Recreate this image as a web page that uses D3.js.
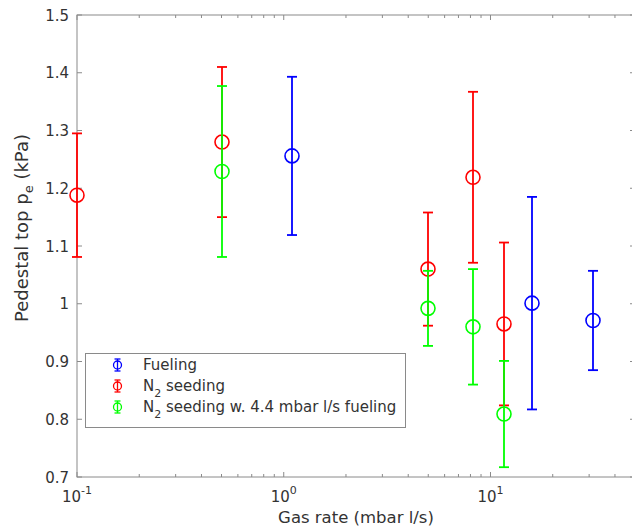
<!DOCTYPE html>
<html><head><meta charset="utf-8">
<script src="https://cdn.jsdelivr.net/npm/d3@7"></script>
<style>body{margin:0;background:#fff}svg{display:block}text{font-family:"DejaVu Sans",sans-serif}</style>
</head><body><svg id="c" width="632" height="531"></svg>
<script>
// Data
const fuelX = [1.1, 15.8, 31.4];
const fuelY = [1.256, 1.001, 0.971];
const fuelErr = [0.137, 0.184, 0.086];
const seedX = [0.1, 0.5, 5.0, 8.2, 11.6];
const seedY = [1.188, 1.280, 1.060, 1.219, 0.965];
const seedErr = [0.107, 0.130, 0.098, 0.148, 0.141];
const mixX = [0.5, 5.0, 8.2, 11.6];
const mixY = [1.229, 0.992, 0.960, 0.809];
const mixErr = [0.148, 0.065, 0.100, 0.092];
const yTicks = [0.7, 0.8, 0.9, 1.0, 1.1, 1.2, 1.3, 1.4, 1.5];
const xMajor = [0.1, 1, 10];
const xMajorExp = ["-1", "0", "1"];
const legendNames = ["Fueling", "N2 seeding", "N2 seeding w. 4.4 mbar l/s fueling"];

const series = [
  {x: fuelX, y: fuelY, e: fuelErr, color: "#0000ff"},
  {x: seedX, y: seedY, e: seedErr, color: "#ff0000"},
  {x: mixX, y: mixY, e: mixErr, color: "#00ff00"}
];

const L = 77, R = 635, T = 15, B = 477;
const svg = d3.select("#c");
const x = d3.scaleLog().domain([0.1, 50]).range([L, R]);
const y = d3.scaleLinear().domain([0.7, 1.5]).range([B, T]);
const axisCol = "#8a8a8a", textCol = "#333";

const g = svg.append("g");
g.append("rect").attr("x", L).attr("y", T).attr("width", R - L).attr("height", B - T)
  .attr("fill", "none").attr("stroke", axisCol).attr("stroke-width", 1);

const minor = [];
for (let d = 0.1; d < 50; d *= 10) for (let k = 2; k <= 9; k++) { const v = d * k; if (v <= 50) minor.push(v); }
const tk = g.append("g").attr("stroke", axisCol).attr("stroke-width", 1);
minor.forEach(v => {
  tk.append("line").attr("x1", x(v)).attr("x2", x(v)).attr("y1", B).attr("y2", B - 3);
  tk.append("line").attr("x1", x(v)).attr("x2", x(v)).attr("y1", T).attr("y2", T + 3);
});
xMajor.forEach(v => {
  tk.append("line").attr("x1", x(v)).attr("x2", x(v)).attr("y1", B).attr("y2", B - 5);
  tk.append("line").attr("x1", x(v)).attr("x2", x(v)).attr("y1", T).attr("y2", T + 5);
});
yTicks.forEach(v => {
  tk.append("line").attr("x1", L).attr("x2", L + 5).attr("y1", y(v)).attr("y2", y(v));
  tk.append("line").attr("x1", R).attr("x2", R - 5).attr("y1", y(v)).attr("y2", y(v));
});

yTicks.forEach(v => {
  g.append("text").attr("x", L - 8).attr("y", y(v) + 5.5).attr("text-anchor", "end")
    .attr("font-size", 15).attr("fill", textCol).text(d3.format("~g")(v));
});
xMajor.forEach((v, i) => {
  const t = g.append("text").attr("x", x(v)).attr("y", 502).attr("text-anchor", "middle")
    .attr("font-size", 15).attr("fill", textCol);
  t.append("tspan").text("10");
  t.append("tspan").attr("dy", -8).attr("font-size", 11).text(xMajorExp[i]);
});

// axis labels
g.append("text").attr("x", 356).attr("y", 523).attr("text-anchor", "middle")
  .attr("font-size", 16.5).attr("fill", textCol).text("Gas rate (mbar l/s)");
const yl = g.append("text").attr("transform", "translate(28,228) rotate(-90)").attr("text-anchor", "middle")
  .attr("font-size", 18).attr("fill", textCol);
yl.append("tspan").text("Pedestal top p");
yl.append("tspan").attr("dy", 5).attr("font-size", 13).text("e");
yl.append("tspan").attr("dy", -5).text(" (kPa)");

// error bars + markers
const capW = 5;
series.forEach(s => {
  const gs = g.append("g").attr("stroke", s.color).attr("stroke-width", 1.8).attr("fill", "none");
  s.x.forEach((xv, i) => {
    const cx = Math.round(x(xv)), yv = s.y[i], e = s.e[i];
    gs.append("line").attr("x1", cx).attr("x2", cx).attr("y1", y(yv - e)).attr("y2", y(yv + e));
    gs.append("line").attr("x1", cx - capW).attr("x2", cx + capW).attr("y1", y(yv - e)).attr("y2", y(yv - e));
    gs.append("line").attr("x1", cx - capW).attr("x2", cx + capW).attr("y1", y(yv + e)).attr("y2", y(yv + e));
    gs.append("circle").attr("cx", cx).attr("cy", y(yv)).attr("r", 7).attr("stroke-width", 1.6);
  });
});

// legend
const lg = g.append("g");
lg.append("rect").attr("x", 85.5).attr("y", 353.5).attr("width", 320).attr("height", 74)
  .attr("fill", "#fff").attr("stroke", axisCol).attr("stroke-width", 1);
series.forEach((s, i) => {
  const cy = 365 + i * 21, cx = 117.5;
  const ls = lg.append("g").attr("stroke", s.color).attr("stroke-width", 1.3).attr("fill", "none");
  ls.append("line").attr("x1", cx).attr("x2", cx).attr("y1", cy - 6).attr("y2", cy + 6);
  ls.append("line").attr("x1", cx - 3).attr("x2", cx + 3).attr("y1", cy - 6).attr("y2", cy - 6);
  ls.append("line").attr("x1", cx - 3).attr("x2", cx + 3).attr("y1", cy + 6).attr("y2", cy + 6);
  ls.append("circle").attr("cx", cx).attr("cy", cy).attr("r", 4);
  const t = lg.append("text").attr("x", 143).attr("y", cy + 4.5).attr("font-size", 15).attr("fill", textCol);
  const name = legendNames[i];
  if (name.startsWith("N2")) {
    t.append("tspan").text("N");
    t.append("tspan").attr("dy", 6).attr("font-size", 11).text("2");
    t.append("tspan").attr("dy", -6).text(name.slice(2));
  } else t.text(name);
});
</script></body></html>
